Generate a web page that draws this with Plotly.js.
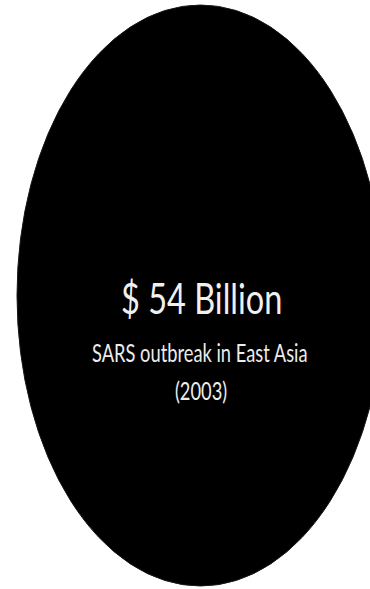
<!DOCTYPE html>
<html><head><meta charset="utf-8">
<script src="https://cdn.plot.ly/plotly-3.0.1.min.js"></script>
<style>
html,body{margin:0;padding:0;background:#fff;}
#chart{width:370px;height:589px;}
#chart .annotation-text{transform-box:fill-box;transform-origin:center;transform:scaleY(1.33);}
</style>
</head><body><div id="chart"></div>
<script>
const headline = ["$ 54 Billion"];
const subtitle = ["SARS outbreak in East Asia"];
const yearLabel = ["(2003)"];

const FONT = "Lato, 'Open Sans', sans-serif";

const layout = {
  width: 370, height: 589,
  margin: {l:0, r:0, t:0, b:0},
  paper_bgcolor: "#ffffff", plot_bgcolor: "#ffffff",
  showlegend: false,
  xaxis: {range:[0,370], visible:false, fixedrange:true},
  yaxis: {range:[589,0], visible:false, fixedrange:true},
  shapes: [{type:"circle", xref:"x", yref:"y", x0:17, x1:384, y0:5, y1:586,
            fillcolor:"#000000", line:{color:"#1a1a1a", width:1}}],
  annotations: [
    {x:201, y:297, xref:"x", yref:"y", text:headline[0], showarrow:false,
     font:{family:FONT, size:32.5, color:"#f0f0f0"}},
    {x:200, y:353, xref:"x", yref:"y", text:subtitle[0], showarrow:false,
     font:{family:FONT, size:18.3, color:"#ececec"}},
    {x:201, y:391, xref:"x", yref:"y", text:yearLabel[0], showarrow:false,
     font:{family:FONT, size:18.3, color:"#ececec"}}
  ]
};
Plotly.newPlot("chart", [], layout, {displayModeBar:false, staticPlot:true});
</script></body></html>
